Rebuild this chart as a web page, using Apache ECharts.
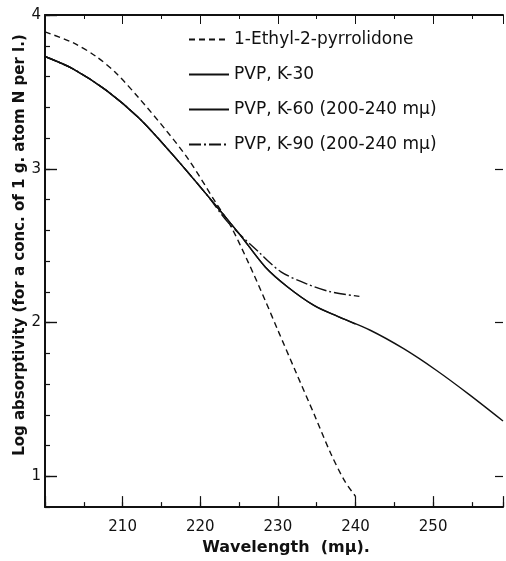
<!DOCTYPE html>
<html>
<head>
<meta charset="utf-8">
<script src="https://cdn.jsdelivr.net/npm/echarts@6/dist/echarts.min.js"></script>
<style>html,body{margin:0;padding:0;background:#fff}#c{width:506px;height:561px}</style>
</head>
<body>
<div id="c"></div>
<script>
// Data
var seriesNames = ['1-Ethyl-2-pyrrolidone', 'PVP, K-30', 'PVP, K-60 (200-240 m\u03bc)', 'PVP, K-90 (200-240 m\u03bc)'];

var wlEthyl = [200, 203.6, 206.6, 209.2, 212.1, 215.6, 218.5, 222.0, 223.9, 226.2, 228.4, 230.0, 232.3, 234.7, 236.8, 238.6, 240.0];
var absEthyl = [3.89, 3.82, 3.73, 3.62, 3.46, 3.25, 3.06, 2.78, 2.63, 2.39, 2.14, 1.95, 1.68, 1.40, 1.15, 0.97, 0.87];

var wlK30 = [200, 203.6, 207.9, 212.1, 216.3, 220.7, 224.0, 225.3, 228.4, 231.3, 234.7, 237.7, 241.9, 246.2, 250.4, 254.7, 259];
var absK30 = [3.73, 3.65, 3.51, 3.33, 3.10, 2.84, 2.64, 2.56, 2.36, 2.23, 2.11, 2.04, 1.95, 1.83, 1.69, 1.53, 1.36];

var wlK60 = [200, 203.6, 207.9, 212.1, 216.3, 220.7, 224.0, 225.3, 228.4, 231.3, 234.7, 237.7, 240];
var absK60 = [3.73, 3.65, 3.51, 3.33, 3.10, 2.84, 2.64, 2.56, 2.36, 2.23, 2.11, 2.04, 1.99];

var wlK90 = [200, 203.6, 207.9, 212.1, 216.3, 220.7, 223.6, 227.5, 230.4, 233.8, 236.8, 240.5];
var absK90 = [3.73, 3.65, 3.51, 3.33, 3.10, 2.84, 2.65, 2.46, 2.33, 2.25, 2.20, 2.17];

var xTickLabels = [210, 220, 230, 240, 250];
var yTickLabels = [1, 2, 3, 4];

function pairs(xs, ys) { return xs.map(function (x, i) { return [x, ys[i]]; }); }

var INK = '#111';
var FONT = 'DejaVu Sans';

var chart = echarts.init(document.getElementById('c'), null, { renderer: 'canvas' });

function lineSeries(name, data, type) {
  return {
    name: name, type: 'line', data: data, smooth: 0.3,
    symbol: 'none', showSymbol: false,
    xAxisIndex: 0, yAxisIndex: 0,
    lineStyle: { color: INK, width: 1.4, type: type },
    itemStyle: { color: INK },
    z: 3
  };
}

var option = {
  backgroundColor: '#fff',
  animation: false,
  grid: { left: 45, right: -2, top: 15, bottom: 44, containLabel: false },
  legend: {
    orient: 'vertical', left: 188, top: 31, padding: 0,
    itemWidth: 40, itemHeight: 14, itemGap: 18,
    itemStyle: { opacity: 0 },
    textStyle: { fontFamily: FONT, fontSize: 17, lineHeight: 14, color: INK },
    data: seriesNames
  },
  xAxis: [
    {
      type: 'value', min: 200, max: 259, interval: 5, position: 'bottom',
      name: 'Wavelength  (m\u03bc).', nameLocation: 'middle', nameGap: 27,
      nameTextStyle: { fontFamily: FONT, fontSize: 16, fontWeight: 'bold', color: INK, padding: [0, 0, 0, 24] },
      axisLine: { lineStyle: { color: INK, width: 2 } },
      axisTick: { inside: true, length: 5, lineStyle: { color: INK, width: 1.2 } },
      axisLabel: {
        margin: 13, fontFamily: FONT, fontSize: 15, color: INK,
        formatter: function (v) { return xTickLabels.indexOf(Math.round(v)) >= 0 && Math.abs(v - Math.round(v)) < 1e-6 ? String(Math.round(v)) : ''; }
      },
      splitLine: { show: false }
    },
    {
      type: 'value', min: 200, max: 259, interval: 10, position: 'bottom',
      axisLine: { show: false },
      axisTick: { inside: true, length: 11, lineStyle: { color: INK, width: 1.2 } },
      axisLabel: { show: false }, splitLine: { show: false }
    },
    {
      type: 'value', min: 200, max: 259, interval: 5, position: 'top',
      axisLine: { show: true, lineStyle: { color: INK, width: 2 } },
      axisTick: { inside: true, length: 4, lineStyle: { color: INK, width: 1 } },
      axisLabel: { show: false }, splitLine: { show: false }
    },
    {
      type: 'value', min: 200, max: 259, interval: 10, position: 'top',
      axisLine: { show: false },
      axisTick: { inside: true, length: 9, lineStyle: { color: INK, width: 1 } },
      axisLabel: { show: false }, splitLine: { show: false }
    }
  ],
  yAxis: [
    {
      type: 'value', min: 0.8, max: 4.0, interval: 0.2, position: 'left',
      name: 'Log absorptivity (for a conc. of 1 g. atom N per l.)',
      nameLocation: 'middle', nameGap: 17, nameRotate: 90,
      nameTextStyle: { fontFamily: FONT, fontSize: 15, fontWeight: 'bold', color: INK, padding: [0, 0, 0, 32] },
      axisLine: { lineStyle: { color: INK, width: 2 } },
      axisTick: { inside: true, length: 5, lineStyle: { color: INK, width: 1.2 } },
      axisLabel: { show: false },
      splitLine: { show: false }
    },
    {
      type: 'value', min: 0.8, max: 4.0, position: 'left',
      axisLine: { show: false },
      axisTick: { inside: true, length: 12, customValues: yTickLabels, lineStyle: { color: INK, width: 1.4 } },
      axisLabel: { margin: 4, fontFamily: FONT, fontSize: 15, color: INK, customValues: yTickLabels,
        formatter: function (v) { return String(Math.round(v)); } },
      splitLine: { show: false }
    },
    {
      type: 'value', min: 0.8, max: 4.0, position: 'right',
      axisLine: { show: false },
      axisTick: { inside: true, length: 8, customValues: [1, 2, 3], lineStyle: { color: INK, width: 1.2 } },
      axisLabel: { show: false },
      splitLine: { show: false }
    }
  ],
  series: [
    lineSeries(seriesNames[0], pairs(wlEthyl, absEthyl), [6, 4]),
    lineSeries(seriesNames[1], pairs(wlK30, absK30), 'solid'),
    lineSeries(seriesNames[2], pairs(wlK60, absK60), 'solid'),
    lineSeries(seriesNames[3], pairs(wlK90, absK90), [12, 3, 2, 3])
  ]
};
chart.setOption(option);
</script>
</body>
</html>
